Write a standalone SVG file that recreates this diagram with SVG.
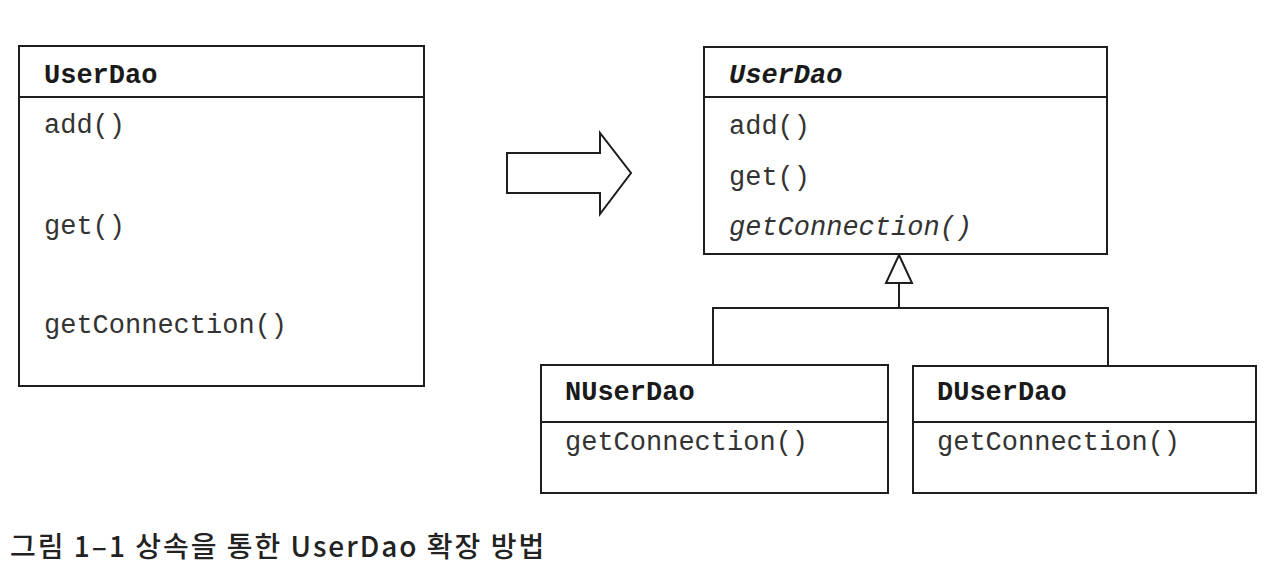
<svg xmlns="http://www.w3.org/2000/svg" width="1278" height="570" viewBox="0 0 1278 570">
<style>
.box{fill:#fff;stroke:#1e1e1e;stroke-width:2}
.ln{stroke:#1e1e1e;stroke-width:2;fill:none}
.mono{font-family:"Liberation Mono","DejaVu Sans Mono",monospace;font-size:27px;fill:#333}
.name{font-weight:bold;fill:#1a1a1a}
.it{font-style:italic}
.cap{font-family:"Noto Sans CJK KR","Noto Sans",sans-serif;font-size:28px;font-weight:500;letter-spacing:2px;fill:#222}
</style>
<rect width="1278" height="570" fill="#fff"/>
<g id="left-userdao">
<rect class="box" x="19" y="46" width="405" height="340"/>
<line class="ln" x1="19" y1="97" x2="424" y2="97"/>
<text class="mono name" x="44" y="83">UserDao</text>
<text class="mono" x="44" y="133">add()</text>
<text class="mono" x="44" y="234">get()</text>
<text class="mono" x="44" y="333">getConnection()</text>
</g>
<g id="transform-arrow">
<polygon class="box" points="507,153 600,153 600,133 631,173 600,214 600,193 507,193"/>
</g>
<g id="abstract-userdao">
<rect class="box" x="704" y="47" width="403" height="207"/>
<line class="ln" x1="704" y1="97" x2="1107" y2="97"/>
<text class="mono name it" x="729" y="83">UserDao</text>
<text class="mono" x="729" y="134">add()</text>
<text class="mono" x="729" y="185">get()</text>
<text class="mono it" x="729" y="235">getConnection()</text>
</g>
<g id="connectors">
<polyline class="ln" points="713,365 713,308 1108,308 1108,366"/>
<line class="ln" x1="899" y1="308" x2="899" y2="283"/>
<polygon class="box" points="899,255 912,283 886,283"/>
</g>
<g id="nuserdao">
<rect class="box" x="541" y="365" width="347" height="128"/>
<line class="ln" x1="541" y1="422" x2="888" y2="422"/>
<text class="mono name" x="565" y="400">NUserDao</text>
<text class="mono" x="565" y="450">getConnection()</text>
</g>
<g id="duserdao">
<rect class="box" x="913" y="366" width="343" height="127"/>
<line class="ln" x1="913" y1="422" x2="1256" y2="422"/>
<text class="mono name" x="937" y="400">DUserDao</text>
<text class="mono" x="937" y="450">getConnection()</text>
</g>
<text class="cap" x="10" y="557">그림 1–1 상속을 통한 UserDao 확장 방법</text>
</svg>
